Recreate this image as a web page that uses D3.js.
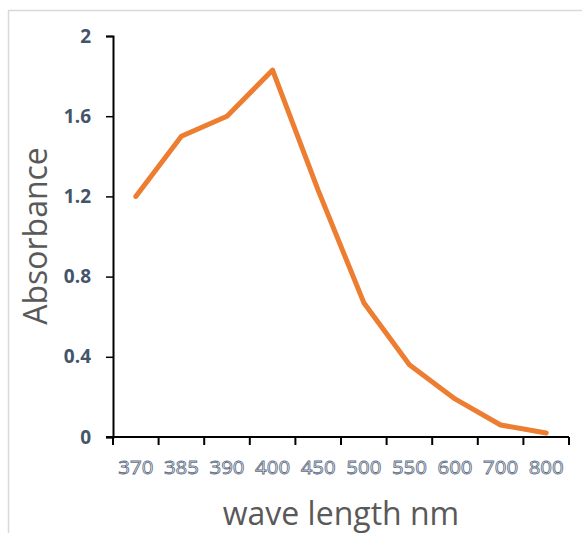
<!DOCTYPE html>
<html>
<head>
<meta charset="utf-8">
<script src="https://cdn.jsdelivr.net/npm/d3@7"></script>
<style>
  body { margin: 0; background: #fff; }
  svg { display: block; }
</style>
</head>
<body>
<div id="chart"></div>
<script>
// wavelengths (category axis) and measured absorbance
const wavelengths = ['370', '385', '390', '400', '450', '500', '550', '600', '700', '800'];
const absorbance = [1.2, 1.5, 1.6, 1.83, 1.23, 0.67, 0.36, 0.19, 0.06, 0.02];
const yTicks = [0, 0.4, 0.8, 1.2, 1.6, 2];

function init() {
    const width = 582;
    const height = 533;
    const margin = { top: 36, right: 13, bottom: 96, left: 113 };

    const svg = d3.select('#chart')
        .append('svg')
        .attr('width', width)
        .attr('height', height);

    // light frame of the chart area (right/bottom edges run off the picture)
    svg.append('rect')
        .attr('x', 8.5).attr('y', 10.5)
        .attr('width', 600).attr('height', 560)
        .attr('fill', 'none')
        .attr('stroke', '#d9d9d9')
        .attr('stroke-width', 1.5);

    const x = d3.scaleBand()
        .domain(wavelengths)
        .range([margin.left, width - margin.right]);

    const y = d3.scaleLinear()
        .domain([0, 2])
        .range([height - margin.bottom, margin.top]);

    // y axis
    const yAxis = svg.append('g')
        .attr('transform', `translate(${margin.left},0)`)
        .call(d3.axisLeft(y).tickValues(yTicks).tickSize(7).tickPadding(15)
            .tickFormat(d => d3.format('~g')(d)));
    yAxis.select('.domain').attr('stroke', '#000').attr('stroke-width', 2);
    yAxis.selectAll('.tick line').attr('stroke', '#000').attr('stroke-width', 1.5);
    yAxis.selectAll('.tick text')
        .attr('fill', '#44546a')
        .style('font-family', 'Open Sans, sans-serif')
        .style('font-weight', 'bold')
        .style('font-size', '19px');

    // x axis, ticks on the band edges
    const xAxis = svg.append('g')
        .attr('transform', `translate(0,${height - margin.bottom})`);
    xAxis.append('line')
        .attr('x1', margin.left - 7).attr('x2', width - margin.right)
        .attr('stroke', '#000').attr('stroke-width', 2);
    const edges = wavelengths.map(d => x(d)).concat([x.range()[1]]);
    xAxis.selectAll('.edge')
        .data(edges)
        .enter().append('line')
        .attr('class', 'edge')
        .attr('x1', d => d).attr('x2', d => d)
        .attr('y1', 0).attr('y2', 8)
        .attr('stroke', '#000').attr('stroke-width', 2);
    // outlined tick labels
    xAxis.selectAll('.lbl')
        .data(wavelengths)
        .enter().append('text')
        .attr('class', 'lbl')
        .attr('x', d => x(d) + x.bandwidth() / 2)
        .attr('y', 37)
        .attr('text-anchor', 'middle')
        .style('font-family', 'Open Sans, sans-serif')
        .style('font-size', '19px')
        .attr('textLength', 35)
        .attr('lengthAdjust', 'spacingAndGlyphs')
        .attr('fill', '#ffffff')
        .attr('stroke', '#5d6d84')
        .attr('stroke-width', 0.8)
        .text(d => d);

    // line
    const line = d3.line()
        .x((d, i) => x(wavelengths[i]) + x.bandwidth() / 2)
        .y(d => y(d));

    svg.append('path')
        .datum(absorbance)
        .attr('d', line)
        .attr('fill', 'none')
        .attr('stroke', '#ed7d31')
        .attr('stroke-width', 5)
        .attr('stroke-linejoin', 'round')
        .attr('stroke-linecap', 'round');

    // axis titles
    svg.append('text')
        .attr('transform', `translate(47,236) rotate(-90)`)
        .attr('text-anchor', 'middle')
        .attr('fill', '#595959')
        .style('font-family', 'Open Sans, sans-serif')
        .style('font-size', '32px')
        .text('Absorbance');

    svg.append('text')
        .attr('x', 341)
        .attr('y', 525)
        .attr('text-anchor', 'middle')
        .attr('fill', '#595959')
        .style('font-family', 'Open Sans, sans-serif')
        .style('font-size', '32px')
        .text('wave length nm');
}

window.onload = init;
</script>
</body>
</html>
